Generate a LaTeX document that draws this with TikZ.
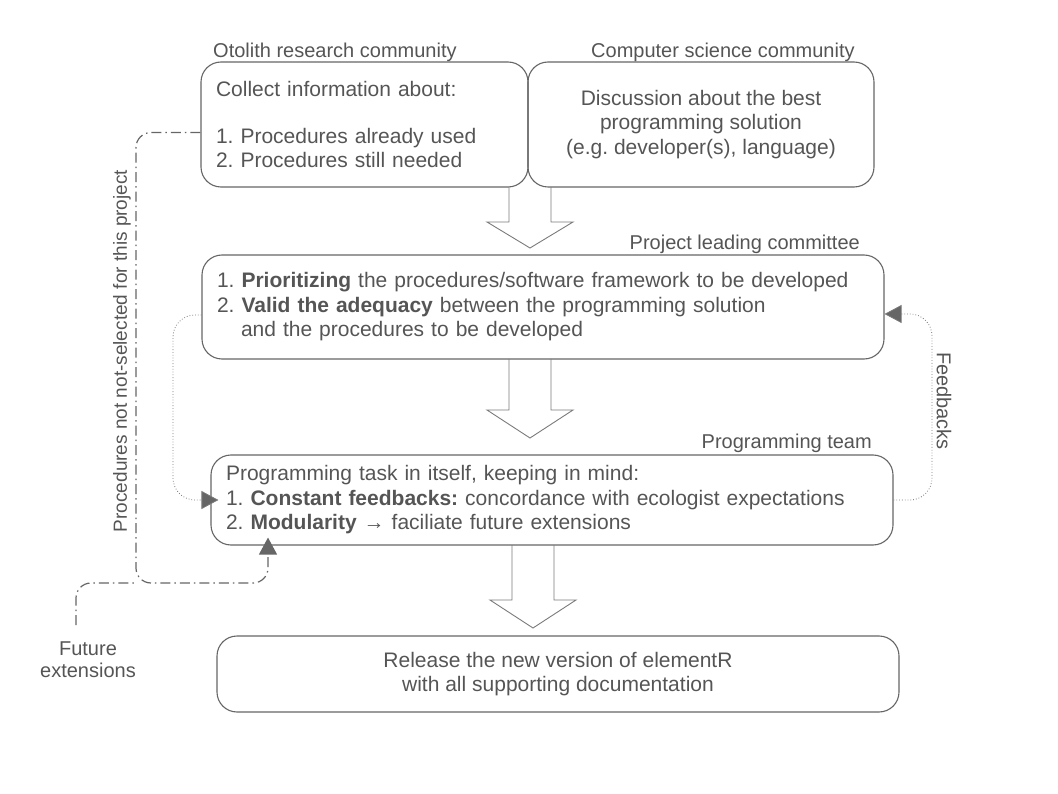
\documentclass[tikz,border=0pt]{standalone}
\usepackage{fontspec}
\setmainfont{Liberation Sans}
\usepackage{tikz}
\usetikzlibrary{arrows.meta, calc, positioning}
\usepackage{xcolor}
\definecolor{boxgray}{HTML}{666666}
\definecolor{textgray}{HTML}{555555}
\definecolor{linegray}{HTML}{7A7A7A}
\frenchspacing

\begin{document}
\begin{tikzpicture}[x=1pt, y=-1pt, font=\fontsize{21}{24.5}\selectfont, text=textgray]
        \tikzstyle{box}=[draw=boxgray, line width=1.1pt, rounded corners=20pt, inner xsep=15pt, inner ysep=0pt]
        \tikzstyle{tag}=[inner sep=0pt, font=\fontsize{20}{22}\selectfont]
        \tikzstyle{bigarrow}=[draw=linegray, line width=0.9pt]
        \tikzstyle{dashdot}=[draw=boxgray, line width=1.2pt, dash pattern=on 10pt off 4pt on 1.5pt off 4pt, rounded corners=15pt]
        \tikzstyle{feedback}=[draw=linegray, line width=0.8pt, dotted, rounded corners=22pt]
        \tikzstyle{headend}=[-{Triangle[length=17pt, width=18pt, fill=boxgray]}]
        \tikzstyle{sink}=[shorten >=-8pt]

        \useasboundingbox (0,0) rectangle (1058,794);

        % Community boxes
        \node[box, minimum width=327pt, minimum height=125pt, text width=297pt, align=left] (otolith) at (364.5,124.5)
            {Collect information about:\\[22pt]1. Procedures already used\\2. Procedures still needed};
        \node[box, minimum width=346pt, minimum height=125pt, align=center] (cs) at (701,124.5)
            {Discussion about the best\\programming solution\\(e.g. developer(s), language)};

        % Committee, team and release
        \node[box, minimum width=682pt, minimum height=104pt, text width=652pt, align=left] (proj) at (543,307)
            {1. \textbf{Prioritizing} the procedures/software framework to be developed\\2. \textbf{Valid the adequacy} between the programming solution\\\hspace*{24pt}and the procedures to be developed};
        \node[box, minimum width=682pt, minimum height=90pt, text width=652pt, align=left] (prog) at (552,500)
            {Programming task in itself, keeping in mind:\\1. \textbf{Constant feedbacks:} concordance with ecologist expectations\\2. \textbf{Modularity} → faciliate future extensions};
        \node[box, minimum width=682pt, minimum height=76pt, align=center] (release) at (558,674)
            {Release the new version of elementR\\with all supporting documentation};

        % Titles above the boxes
        \node[tag, anchor=west] (otolithtitle) at (213,52) {Otolith research community};
        \node[tag, anchor=west] (cstitle) at (591,52) {Computer science community};
        \node[tag, anchor=east] (projtitle) at (860,244) {Project leading committee};
        \node[tag, anchor=east] (progtitle) at (872,443) {Programming team};

        % Side labels
        \node[tag, rotate=90, font=\fontsize{19}{22}\selectfont] (notselected) at (122,351) {Procedures not not-selected for this project};
        \node[tag, rotate=-90] (feedbacks) at (944,401) {Feedbacks};
        \node[tag, align=center] (future) at (88,660) {Future\\extensions};

        % Big arrows between the steps
        \foreach \cx/\ya/\yb/\yc in {530/187/222/248, 530/359/410/438, 533/545/600/628}
            \draw[bigarrow] ({\cx-21},\ya) -- ({\cx-21},\yb) -- ({\cx-43},\yb) -- (\cx,\yc)
                -- ({\cx+43},\yb) -- ({\cx+21},\yb) -- ({\cx+21},\ya);

        % Procedures left aside become future extensions
        \coordinate (leftaside) at ([yshift=-8pt]otolith.west);
        \coordinate (futtop) at (76,625);
        \draw[dashdot, headend, sink] (leftaside) -- (leftaside -| 136,0) -- (136,583) -- (268,583) -- (268,0 |- prog.south);
        \draw[dashdot] (futtop) -- (76,583) -- (136,583);

        % Feedback loops
        \coordinate (fbstart) at ([yshift=-8pt]proj.west);
        \coordinate (fbend) at ([yshift=-7pt]proj.east);
        \draw[feedback, headend, sink] (fbstart) -- (fbstart -| 173,0) -- (173,0 |- prog.west) -- (prog.west);
        \draw[feedback, headend] (prog.east) -- (932,0 |- prog.east) -- (932,0 |- fbend) -- (fbend);
\end{tikzpicture}
\end{document}
